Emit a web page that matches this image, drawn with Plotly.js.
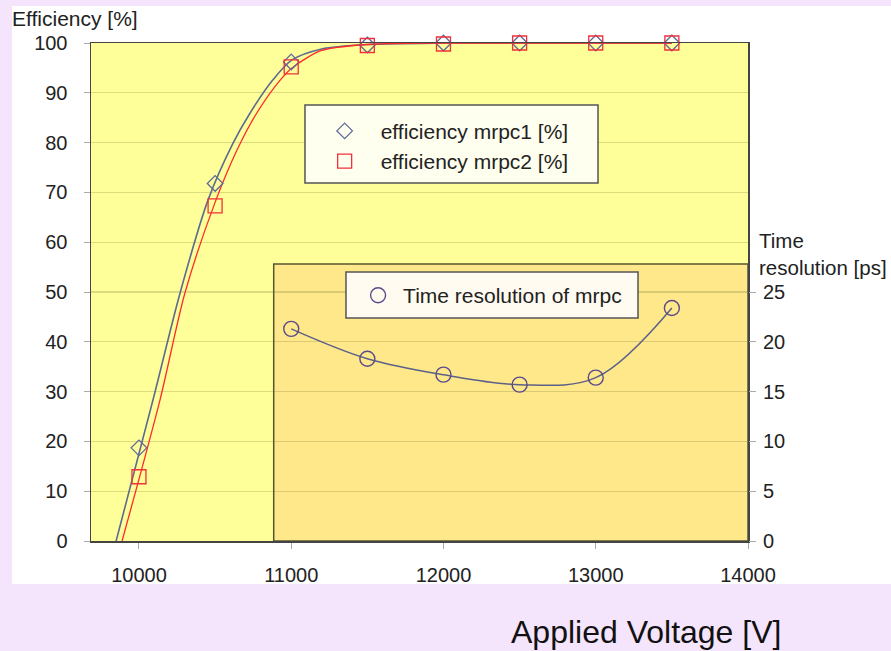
<!DOCTYPE html>
<html>
<head>
<meta charset="utf-8">
<script src="https://cdn.plot.ly/plotly-3.0.1.min.js"></script>
<style>html,body{margin:0;padding:0;background:#fff;}#chart{width:891px;height:651px;}</style>
</head>
<body>
<div id="chart"></div>
<script>
// Measured points
var voltage = [10000, 10500, 11000, 11500, 12000, 12500, 13000, 13500];
var effMrpc1 = [18.7, 71.8, 96.2, 99.6, 100, 100, 100, 100];
var effMrpc2 = [12.9, 67.3, 95.2, 99.5, 99.8, 100, 100, 100];

// Fitted curves
var fit1X = [9850, 10092, 10270, 10454, 10618, 10729, 10880, 11005, 11200, 11500, 12000, 13500];
var fit1Y = [0, 28.3, 49.8, 68.5, 79.9, 85.9, 92.6, 96.6, 98.8, 99.7, 100, 100];
var fit2X = [9889, 10138, 10302, 10500, 10644, 10775, 10926, 11005, 11200, 11500, 12000, 13500];
var fit2Y = [0, 28.3, 49.8, 68, 78.5, 86, 92.5, 95, 98.5, 99.7, 100, 100];

// Time resolution (inset)
var trVoltage = [11000, 11500, 12000, 12500, 13000, 13500];
var timeRes = [21.3, 18.3, 16.7, 15.7, 16.4, 23.4];

// Tick labels
var xTicks = [10000, 11000, 12000, 13000, 14000];
var yTicks = [0, 10, 20, 30, 40, 50, 60, 70, 80, 90, 100];
var y2Ticks = [0, 5, 10, 15, 20, 25];
var y3Ticks = [5, 10, 15, 20, 25];

var FONT = 'Liberation Sans, Arial, Helvetica, sans-serif';
var TXT = '#222222';
var PURPLE = '#f4e4fc';

var traces = [
  {x: fit1X, y: fit1Y, type: 'scatter', mode: 'lines', line: {color: '#5d6b8e', width: 1.6, shape: 'spline', smoothing: 0.8}, showlegend: false, hoverinfo: 'skip'},
  {x: fit2X, y: fit2Y, type: 'scatter', mode: 'lines', line: {color: '#ff2a2a', width: 1.3, shape: 'spline', smoothing: 0.8}, showlegend: false, hoverinfo: 'skip'},
  {x: voltage, y: effMrpc1, type: 'scatter', mode: 'markers', name: 'efficiency mrpc1 [%]', legend: 'legend', cliponaxis: false,
   marker: {symbol: 'diamond-open', size: 12, color: '#5f6a9a', line: {width: 1.3}}},
  {x: voltage, y: effMrpc2, type: 'scatter', mode: 'markers', name: 'efficiency mrpc2 [%]', legend: 'legend', cliponaxis: false,
   marker: {symbol: 'square-open', size: 14, color: '#f0303a', line: {width: 1.3}}},
  {x: trVoltage, y: timeRes, yaxis: 'y2', type: 'scatter', mode: 'lines', line: {color: '#5d6088', width: 1.5, shape: 'spline', smoothing: 1}, showlegend: false, hoverinfo: 'skip'},
  {x: trVoltage, y: timeRes, yaxis: 'y2', type: 'scatter', mode: 'markers', name: 'Time resolution of mrpc', legend: 'legend2', cliponaxis: false,
   marker: {symbol: 'circle-open', size: 15, color: '#5a4a8c', line: {width: 1.4}}}
];

var layout = {
  width: 891, height: 651,
  margin: {l: 91, r: 143, t: 43, b: 110, pad: 0},
  paper_bgcolor: '#ffffff',
  plot_bgcolor: '#ffff99',
  font: {family: FONT, size: 20, color: TXT},
  showlegend: true,
  xaxis: {
    range: [9685, 14000], tickvals: xTicks, ticktext: xTicks.map(String),
    ticks: 'outside', ticklen: 6, tickcolor: '#aaaaaa', tickwidth: 1,
    showgrid: false, zeroline: false, showline: true, linecolor: '#444444', linewidth: 1.5, mirror: true,
    ticklabelstandoff: 9, tickfont: {size: 20, color: TXT}
  },
  yaxis: {
    range: [0, 100], tickvals: yTicks, ticktext: yTicks.map(String),
    ticks: 'outside', ticklen: 6, tickcolor: '#aaaaaa',
    showgrid: true, gridcolor: 'rgba(110,110,40,0.24)', gridwidth: 1.2, zeroline: false,
    showline: true, linecolor: '#444444', linewidth: 1.5, mirror: true,
    ticklabelstandoff: 12, tickfont: {size: 20, color: TXT}
  },
  yaxis2: {
    overlaying: 'y', side: 'right', anchor: 'x', range: [0, 50],
    tickvals: y2Ticks, ticktext: y2Ticks.map(String),
    ticks: 'outside', ticklen: 7, tickcolor: '#aaaaaa',
    showgrid: false, zeroline: false, showline: false,
    ticklabelstandoff: 3, tickfont: {size: 20, color: TXT}
  },
  yaxis3: {
    overlaying: 'y', side: 'left', anchor: 'free', position: 0.2785, range: [0, 50],
    tickvals: y3Ticks, ticktext: y3Ticks.map(String),
    ticks: 'outside', ticklen: 8, tickcolor: '#aaaaaa',
    showgrid: false, zeroline: false, showline: false,
    ticklabelstandoff: 2, tickfont: {size: 20, color: TXT}
  },
  legend: {
    x: 0.3313, y: 0.864, xanchor: 'left', yanchor: 'top',
    bgcolor: 'rgba(0,0,0,0)', borderwidth: 0,
    font: {size: 21, color: TXT}, itemwidth: 62, tracegroupgap: 0
  },
  legend2: {
    x: 0.3989, y: 0.534, xanchor: 'left', yanchor: 'top',
    bgcolor: 'rgba(0,0,0,0)', borderwidth: 0,
    font: {size: 21, color: TXT}, itemwidth: 40
  },
  shapes: [
    // purple frame around the white chart
    {type: 'rect', xref: 'paper', yref: 'paper', x0: -0.2, x1: 1.3, y0: 1.0743, y1: 1.2, fillcolor: PURPLE, line: {width: 0}, layer: 'below'},
    {type: 'rect', xref: 'paper', yref: 'paper', x0: -0.2, x1: -0.1202, y0: -0.3, y1: 1.2, fillcolor: PURPLE, line: {width: 0}, layer: 'below'},
    {type: 'rect', xref: 'paper', yref: 'paper', x0: -0.2, x1: 1.3, y0: -0.3, y1: -0.0863, fillcolor: PURPLE, line: {width: 0}, layer: 'below'},
    // inset panel
    {type: 'rect', xref: 'x', yref: 'y', x0: 10885, x1: 14000, y0: 0, y1: 55.6, fillcolor: '#ffe88a', line: {color: '#555533', width: 1.5}, layer: 'below'},
    // legend boxes
    {type: 'rect', xref: 'paper', yref: 'paper', x0: 0.3257, x1: 0.7717, y0: 0.7189, y1: 0.8755, fillcolor: '#fffff0', line: {color: '#555555', width: 1.5}, layer: 'above'},
    {type: 'rect', xref: 'paper', yref: 'paper', x0: 0.3881, x1: 0.8326, y0: 0.4478, y1: 0.5402, fillcolor: '#fffbf0', line: {color: '#555555', width: 1.5}, layer: 'above'}
  ],
  annotations: [
    {xref: 'paper', yref: 'paper', x: -0.1233, y: 1.0482, xanchor: 'left', yanchor: 'middle', showarrow: false,
     text: 'Efficiency [%]', font: {size: 21, color: TXT}},
    {xref: 'paper', yref: 'paper', x: 1.0137, y: 0.5763, xanchor: 'left', yanchor: 'middle', showarrow: false, align: 'left',
     text: 'Time<br>resolution [ps]', font: {size: 20.5, color: TXT}},
    {xref: 'paper', yref: 'paper', x: 0.6362, y: -0.1827, xanchor: 'left', yanchor: 'middle', showarrow: false,
     text: 'Applied Voltage [V]', font: {size: 32, color: '#111111'}}
  ]
};

Plotly.newPlot('chart', traces, layout, {displayModeBar: false, staticPlot: true});
</script>
</body>
</html>
